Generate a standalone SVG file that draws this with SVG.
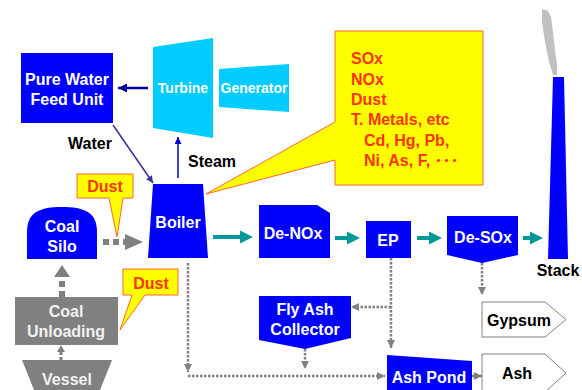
<svg xmlns="http://www.w3.org/2000/svg" width="582" height="390" viewBox="0 0 582 390">
<style>
text{font-family:"Liberation Sans","Noto Sans CJK JP",Arial,sans-serif;font-weight:bold;font-size:16px}
.w{fill:#fff;text-anchor:middle}
.g{fill:#f2f2f2;text-anchor:middle}
.k{fill:#000}
.r{fill:#ff3300}
.blue{fill:#0000ff}
.tur{fill:#00ccff}
.gray{fill:#808080}
.call{fill:#ffff00;stroke:#ff6633;stroke-width:1}
.out{fill:#fff;stroke:#808080;stroke-width:1}
.teal{stroke:#009999;stroke-width:4;fill:none;marker-end:url(#ta)}
.dot{stroke:#808080;stroke-width:2.5;stroke-dasharray:2.5 1.5;fill:none;marker-end:url(#ga)}
.thick{stroke:#808080;stroke-width:6;stroke-dasharray:6 4;fill:none}
</style>
<defs>
<marker id="ta" viewBox="0 0 10 10" refX="0" refY="5" markerUnits="userSpaceOnUse" markerWidth="13" markerHeight="15" orient="auto"><path d="M0,0 L10,5 L0,10 Z" fill="#009999"/></marker>
<marker id="ga" viewBox="0 0 10 10" refX="10" refY="5" markerUnits="userSpaceOnUse" markerWidth="8" markerHeight="9" orient="auto"><path d="M0,0 L10,5 L0,10 Z" fill="#808080"/></marker>
<marker id="da" viewBox="0 0 10 10" refX="10" refY="5" markerUnits="userSpaceOnUse" markerWidth="9" markerHeight="10" orient="auto"><path d="M0,0 L10,5 L0,10 Z" fill="#000099"/></marker>
<marker id="ba" viewBox="0 0 10 10" refX="10" refY="5" markerUnits="userSpaceOnUse" markerWidth="7" markerHeight="7" orient="auto"><path d="M0,0 L10,5 L0,10 Z" fill="#0000cc"/></marker>
<marker id="wa" viewBox="0 0 10 10" refX="10" refY="5" markerUnits="userSpaceOnUse" markerWidth="8" markerHeight="7" orient="auto"><path d="M0,0 L10,5 L0,10 Z" fill="#333399"/></marker>
</defs>

<g id="connectors">
<line x1="148" y1="88" x2="118" y2="88" stroke="#000099" stroke-width="2.5" marker-end="url(#da)"/>
<line x1="113" y1="125" x2="153" y2="183" stroke="#333399" stroke-width="1.5" marker-end="url(#wa)"/>
<line x1="178" y1="178" x2="178" y2="137" stroke="#0000cc" stroke-width="1.5" marker-end="url(#ba)"/>
<text class="k" x="68" y="148.5">Water</text>
<text class="k" x="188" y="167">Steam</text>
<line class="thick" x1="103" y1="242" x2="125" y2="242"/>
<polygon class="gray" points="125,234 143,242 125,250"/>
<line class="thick" x1="62" y1="297" x2="62" y2="277"/>
<polygon class="gray" points="54,277 62,265 70,277"/>
<line x1="61" y1="360" x2="61" y2="351" stroke="#808080" stroke-width="3" stroke-dasharray="3 2"/>
<polygon class="gray" points="57,352 61,345 65,352"/>
<line class="teal" x1="213" y1="237" x2="240" y2="237"/>
<line class="teal" x1="335" y1="238" x2="347" y2="238"/>
<line class="teal" x1="417" y1="238" x2="429" y2="238"/>
<line class="teal" x1="523" y1="238" x2="530" y2="238"/>
<line class="dot" x1="188" y1="263" x2="188" y2="372"/>
<line class="dot" x1="188" y1="376" x2="385" y2="376"/>
<line class="dot" x1="391" y1="258" x2="391" y2="348"/>
<line class="dot" x1="391" y1="307" x2="351" y2="307"/>
<line class="dot" x1="305" y1="349" x2="305" y2="369"/>
<line class="dot" x1="482" y1="263" x2="482" y2="295"/>
<line class="dot" x1="472" y1="376" x2="482" y2="376"/>
</g>

<g id="pure-water">
<rect class="blue" x="21" y="53" width="92" height="70"/>
<text class="w" x="67" y="85">Pure Water</text>
<text class="w" x="67" y="105">Feed Unit</text>
</g>
<g id="turbine">
<polygon class="tur" points="153,47 213,38 213,138 153,128"/>
<text class="w" x="183" y="93" style="font-size:14px">Turbine</text>
</g>
<g id="generator">
<polygon class="tur" points="219,69 289,64 289,112 219,107"/>
<text class="w" x="254" y="93" style="font-size:14px">Generator</text>
</g>
<g id="emissions">
<path class="call" d="M335,31 H483 V185 H335 V160 L206,194 L335,122 Z"/>
<text class="r" x="351" y="63.5">SOx</text>
<text class="r" x="351" y="84.5">NOx</text>
<text class="r" x="351" y="104.5">Dust</text>
<text class="r" x="351" y="124.5">T. Metals, etc</text>
<text class="r" x="364" y="145.5">Cd, Hg, Pb,</text>
<text class="r" x="364" y="165.5">Ni, As, F, ･･･</text>
</g>
<g id="dust1">
<path class="call" d="M77,174 H133 V198 H123 L117,237 L109,198 H77 Z"/>
<text class="r" x="105" y="191.5" text-anchor="middle">Dust</text>
</g>
<g id="dust2">
<path class="call" d="M123,269 H178 V295 H145 L120,330 L132,295 H123 Z"/>
<text class="r" x="151" y="288.5" text-anchor="middle">Dust</text>
</g>
<g id="boiler">
<polygon class="blue" points="153,184 203,184 208,258 148,258"/>
<text class="w" x="178" y="228">Boiler</text>
</g>
<g id="coal-silo">
<path class="blue" d="M27,259 V232 C27,212 40,207 62,207 C84,207 97,212 97,232 V259 Z"/>
<text class="w" x="62" y="232">Coal</text>
<text class="w" x="62" y="252">Silo</text>
</g>
<g id="coal-unloading">
<rect class="gray" x="15" y="297" width="103" height="48"/>
<text class="g" x="66" y="317">Coal</text>
<text class="g" x="66" y="337">Unloading</text>
</g>
<g id="vessel">
<polygon class="gray" points="22,360 112,360 98,395 36,395"/>
<text class="g" x="67" y="385">Vessel</text>
</g>
<g id="de-nox">
<path class="blue" d="M259,205 H317 L330,213 V258 H259 Z"/>
<text class="w" x="293" y="238.5">De-NOx</text>
</g>
<g id="ep">
<rect class="blue" x="366" y="221" width="45" height="37"/>
<text class="w" x="388" y="245.5">EP</text>
</g>
<g id="de-sox">
<polygon class="blue" points="447,216 518,216 518,255 482,263 447,255"/>
<text class="w" x="483" y="242.5">De-SOx</text>
</g>
<g id="stack">
<polygon fill="#c0c0c0" points="542,9 548,11 551,17 553,32 555,50 557,64 557,75 553,75 549,62 545,42 542,22"/>
<polygon class="blue" points="553,77 564,77 568,259 548,259"/>
<text class="k" x="558" y="275.5" text-anchor="middle">Stack</text>
</g>
<g id="fly-ash">
<polygon class="blue" points="259,296 351,296 351,338 305,349 259,340"/>
<text class="w" x="305" y="314.5">Fly Ash</text>
<text class="w" x="305" y="334.5">Collector</text>
</g>
<g id="ash-pond">
<polygon class="blue" points="387,355 472,361 472,395 387,395"/>
<text class="w" x="429" y="382.5">Ash Pond</text>
</g>
<g id="gypsum">
<polygon class="out" points="482,302 545,302 566,319.5 545,337 482,337"/>
<text class="k" x="519" y="325.5" text-anchor="middle">Gypsum</text>
</g>
<g id="ash">
<polygon class="out" points="482,354 545,354 566,373 545,392 482,392"/>
<text class="k" x="517" y="378.5" text-anchor="middle">Ash</text>
</g>
</svg>
